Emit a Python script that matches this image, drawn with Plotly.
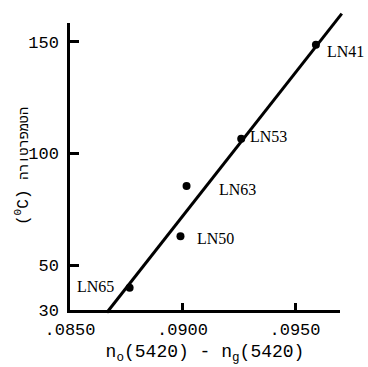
import plotly.graph_objects as go

# ---------------- data ----------------
samples = ["LN41", "LN53", "LN63", "LN50", "LN65"]
birefringence = [0.09593, 0.09261, 0.09018, 0.08991, 0.08765]
temperature = [148.7, 106.6, 85.5, 63.0, 40.0]

fit_x = [0.08664, 0.09708]
fit_y = [28.9, 162.6]

x_tickvals = [0.0850, 0.0900, 0.0950]
x_ticktext = [".0850", ".0900", ".0950"]
y_tickvals = [30, 50, 100, 150]
y_ticktext = ["30", "50", "100", "150"]

x_range = [0.0850, 0.0970]
y_range = [30, 158.4]

x_title = "n<sub>o</sub>(5420) - n<sub>g</sub>(5420)"
y_title = "(<sup>0</sup>C) <span style='font-size:13.5px'>הטמפרטורה</span>"

# ---------------- style / geometry ----------------
W, H = 368, 367
ML, MR, MT, MB = 70, 18, 8, 47
plot_w = W - ML - MR
plot_h = H - MT - MB
ax_left, ax_right, ax_top, ax_bottom = 70, 340, 23, 310  # visible axes box (px)

xdom = [(ax_left - ML) / plot_w, (ax_right - ML) / plot_w]
ydom = [(H - MB - ax_bottom) / plot_h, (H - MB - ax_top) / plot_h]

ux = (x_range[1] - x_range[0]) / (ax_right - ax_left)
uy = (y_range[1] - y_range[0]) / (ax_bottom - ax_top)
x2_range = [x_range[0] - (ax_left - ML) * ux, x_range[1] + (ML + plot_w - ax_right) * ux]
y2_range = [y_range[0] - (H - MB - ax_bottom) * uy, y_range[1] + (ax_top - MT) * uy]

label_style = {
    "LN41": dict(xanchor="left", xshift=9, yshift=-7),
    "LN53": dict(xanchor="left", xshift=7, yshift=2),
    "LN63": dict(xanchor="left", xshift=30, yshift=-4),
    "LN50": dict(xanchor="left", xshift=15, yshift=-2),
    "LN65": dict(xanchor="right", xshift=-14, yshift=1),
}

mono = "Liberation Mono"
serif = "Liberation Serif"

fig = go.Figure()

fig.add_trace(go.Scatter(
    x=fit_x, y=fit_y, mode="lines",
    line=dict(color="black", width=3),
    xaxis="x2", yaxis="y2", hoverinfo="skip", showlegend=False,
))

fig.add_trace(go.Scatter(
    x=birefringence, y=temperature, mode="markers",
    marker=dict(color="black", size=8),
    cliponaxis=False, showlegend=False,
))

for name, xv, yv in zip(samples, birefringence, temperature):
    fig.add_annotation(
        x=xv, y=yv, xref="x", yref="y", text=name, showarrow=False,
        font=dict(family=serif, size=16, color="black"),
        yanchor="middle", **label_style[name],
    )

# y-axis title placed as a rotated annotation
fig.add_annotation(
    x=(22 - ML) / plot_w, y=(H - MB - 166) / plot_h,
    xref="paper", yref="paper", text=y_title, showarrow=False,
    textangle=-90, xanchor="center", yanchor="middle",
    font=dict(family=mono, size=16, color="black"),
)

fig.update_layout(
    width=W, height=H,
    margin=dict(l=ML, r=MR, t=MT, b=MB, pad=0),
    paper_bgcolor="white", plot_bgcolor="rgba(0,0,0,0)",
    showlegend=False,
    xaxis=dict(
        domain=xdom, range=x_range, anchor="y",
        tickvals=x_tickvals, ticktext=x_ticktext,
        showline=True, linecolor="black", linewidth=2.5,
        ticks="inside", ticklen=7, tickwidth=2.5, tickcolor="black",
        showgrid=False, zeroline=False,
        tickfont=dict(family=mono, size=17, color="black"),
        ticklabelstandoff=2,
        title=dict(text=x_title,
                   font=dict(family=mono, size=18, color="black"), standoff=6),
    ),
    yaxis=dict(
        domain=ydom, range=y_range, anchor="x",
        tickvals=y_tickvals, ticktext=y_ticktext,
        showline=True, linecolor="black", linewidth=2.5,
        ticks="inside", ticklen=9, tickwidth=2.5, tickcolor="black",
        showgrid=False, zeroline=False,
        tickfont=dict(family=mono, size=17, color="black"),
        ticklabelstandoff=5,
    ),
    xaxis2=dict(domain=[0, 1], range=x2_range, anchor="y2", visible=False, fixedrange=True),
    yaxis2=dict(domain=[0, 1], range=y2_range, anchor="x2", visible=False, fixedrange=True),
)

fig.write_html("out.html")
